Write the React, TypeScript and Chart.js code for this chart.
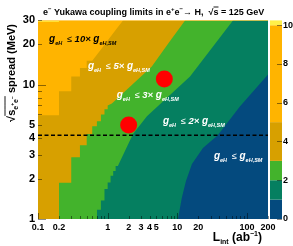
import React, { useEffect, useRef } from "react";
import { Chart, registerables } from "chart.js";

Chart.register(...registerables);

// ---------- axes ----------
const xRange = [0.1, 200];
const yRange = [1, 30];
const zRange = [0, 10.25];
const xTickValues = [0.1, 0.2, 1, 2, 3, 4, 5, 10, 20, 100, 200];
const yTickValues = [1, 2, 3, 4, 5, 10, 20, 30];
const zTickValues = [0, 2, 4, 6, 8, 10];

// ---------- colour levels (g_eH / g_eH,SM) ----------
const zLevels = [0, 1, 2, 3, 5, 10, 10.25];
const zColors = ["#044a7e", "#057f60", "#43b32c", "#d7a000", "#ffb400", "#fff04a"];

// ---------- contour boundaries: [L_int (ab^-1), sqrt(s) spread (MeV)] ----------
const bound10x = [[0.1, 29.3], [0.2, 29.3]];
const bound5x = [
  [0.1, 5.9], [0.2, 5.9], [0.2, 8.9], [0.3, 8.9], [0.3, 11.5], [0.4, 11.5],
  [0.4, 13.3], [0.5, 13.3], [0.5, 15.0], [0.6, 15.0], [0.8, 18.2], [1.0, 21.3],
  [1.3, 25.5], [1.66, 30], [200, 30],
];
const bound3x = [
  [0.2, 1], [0.2, 1.86], [0.3, 1.86], [0.3, 2.88], [0.4, 2.88], [0.4, 3.53],
  [0.5, 3.53], [0.5, 4.28], [0.6, 4.28], [0.6, 4.9], [0.7, 4.9], [0.7, 5.33],
  [0.8, 5.33], [0.8, 6.0], [0.9, 6.0], [0.9, 6.54], [1.0, 6.54], [1.0, 7.0],
  [1.15, 7.24], [2.2, 9.9], [4.3, 13.6], [7.4, 20.2], [12.9, 30], [200, 30],
];
const bound2x = [
  [0.7, 1], [0.7, 1.17], [0.8, 1.17], [0.8, 1.37], [0.9, 1.37], [0.9, 1.67],
  [1.0, 1.67], [1.0, 1.87], [1.1, 1.87], [1.1, 2.1], [1.2, 2.1], [1.2, 2.28],
  [1.3, 2.28], [1.3, 2.48], [1.4, 2.48], [1.77, 3.2], [2.31, 4.28], [3.66, 5.8],
  [15.2, 11.5], [62.8, 30], [200, 30],
];
const bound1x = [
  [10.2, 1], [11.6, 1.44], [13.3, 1.92], [16.2, 2.57], [23.3, 3.37], [38, 4.2],
  [79, 6.88], [200, 11.9],
];
const scenarioPoints = [[2, 5], [6.5, 11]];
const higgsWidth = 4.2;

const FONT = '"Liberation Sans", Arial, Helvetica, sans-serif';

type Run = { t: string; size: number; dy?: number; style?: string; color?: string; over?: boolean };

function runsWidth(ctx: CanvasRenderingContext2D, runs: Run[]) {
  let w = 0;
  for (const r of runs) {
    ctx.font = `${r.style ?? "bold"} ${r.size}px ${FONT}`;
    w += ctx.measureText(r.t).width;
  }
  return w;
}

function drawRuns(ctx: CanvasRenderingContext2D, x: number, y: number, runs: Run[], color = "#000", overY = 0) {
  let cx = x;
  ctx.textAlign = "left";
  ctx.textBaseline = "alphabetic";
  for (const r of runs) {
    ctx.font = `${r.style ?? "bold"} ${r.size}px ${FONT}`;
    ctx.fillStyle = r.color ?? color;
    ctx.fillText(r.t, cx, y + (r.dy ?? 0));
    const w = ctx.measureText(r.t).width;
    if (r.over) {
      ctx.strokeStyle = r.color ?? color;
      ctx.lineWidth = 0.9;
      ctx.beginPath();
      ctx.moveTo(cx, y - overY);
      ctx.lineTo(cx + w, y - overY);
      ctx.stroke();
    }
    cx += w;
  }
}

function coupRuns(mult: string): Run[] {
  return [
    { t: "g", size: 10, style: "italic bold" },
    { t: "eH", size: 5.5, dy: 3, style: "italic bold" },
    { t: "  \u2264 ", size: 9, style: "normal" },
    { t: mult ? mult + "\u00d7 " : "", size: 9.5, style: "italic bold" },
    { t: "g", size: 10, style: "italic bold" },
    { t: "eH,SM", size: 5.5, dy: 3, style: "italic bold" },
  ];
}

const annotations = [
  { mult: "10", L: 0.144, s: 20.8, color: "#000" },
  { mult: "5", L: 0.52, s: 12.97, color: "#fff" },
  { mult: "3", L: 1.35, s: 7.92, color: "#fff" },
  { mult: "2", L: 6.2, s: 5.07, color: "#fff" },
  { mult: "", L: 33.5, s: 2.8, color: "#fff" },
];

const toXY = (a: number[][]) => a.map(([x, y]) => ({ x, y }));

const bgPlugin = {
  id: "bgPlugin",
  beforeDatasetsDraw(chart: any) {
    const { ctx, chartArea: a } = chart;
    ctx.save();
    ctx.fillStyle = zColors[4];
    ctx.fillRect(a.left, a.top, a.right - a.left, a.bottom - a.top);
    ctx.restore();
  },
};

const overlayPlugin = {
  id: "overlayPlugin",
  afterDatasetsDraw(chart: any) {
    const { ctx, chartArea: a } = chart;
    const xs = chart.scales.x, ys = chart.scales.y;
    ctx.save();
    // inner tick marks
    ctx.strokeStyle = "rgba(0,0,0,0.45)";
    ctx.lineWidth = 1;
    for (const d of [0.1, 1, 10, 100]) {
      for (let k = 1; k <= 9; k++) {
        const v = d * k;
        if (v < xRange[0] * 0.999 || v > xRange[1] * 1.001) continue;
        const px = Math.round(xs.getPixelForValue(v)) + 0.5;
        const len = k === 1 ? 6 : 3;
        ctx.beginPath();
        ctx.moveTo(px, a.bottom);
        ctx.lineTo(px, a.bottom - len);
        ctx.stroke();
      }
    }
    for (const d of [1, 10]) {
      for (let k = 1; k <= 9; k++) {
        const v = d * k;
        if (v > yRange[1] * 1.001) continue;
        const py = Math.round(ys.getPixelForValue(v)) + 0.5;
        const len = k === 1 ? 8 : 4;
        ctx.beginPath();
        ctx.moveTo(a.left, py);
        ctx.lineTo(a.left + len, py);
        ctx.stroke();
      }
    }
    // annotations
    for (const an of annotations) {
      drawRuns(ctx, xs.getPixelForValue(an.L), ys.getPixelForValue(an.s), coupRuns(an.mult), an.color);
    }
    ctx.restore();
  },
  afterDraw(chart: any) {
    const { ctx, chartArea: a } = chart;
    const zs = chart.scales.z;
    ctx.save();
    // colour bar
    const barL = 270, barW = 12;
    for (let i = 0; i < zColors.length; i++) {
      const y1 = zs.getPixelForValue(zLevels[i]);
      const y2 = zs.getPixelForValue(zLevels[i + 1]);
      ctx.fillStyle = zColors[i];
      ctx.fillRect(barL, y2, barW, y1 - y2);
    }
    ctx.strokeStyle = "rgba(0,0,0,0.45)";
    ctx.lineWidth = 1;
    for (const v of zTickValues) {
      const py = Math.round(zs.getPixelForValue(v)) + 0.5;
      ctx.beginPath();
      ctx.moveTo(barL + barW - 5, py);
      ctx.lineTo(barL + barW, py);
      ctx.stroke();
    }
    // title
    drawRuns(ctx, 43, 15, [
      { t: "e", size: 9 },
      { t: "\u2212", size: 6, dy: -4 },
      { t: " Yukawa coupling limits in e", size: 9 },
      { t: "+", size: 6, dy: -4 },
      { t: "e", size: 9 },
      { t: "\u2212", size: 6, dy: -4 },
      { t: "\u2192 H,  ", size: 9 },
      { t: "\u221a", size: 9 },
      { t: "s", size: 9, over: true },
      { t: " = 125 GeV", size: 9 },
    ], "#000", 8);
    // x title
    const xRuns: Run[] = [
      { t: "L", size: 12 },
      { t: "int", size: 7, dy: 3 },
      { t: " (ab", size: 12 },
      { t: "\u22121", size: 7, dy: -5 },
      { t: ")", size: 12 },
    ];
    const xw = runsWidth(ctx, xRuns);
    drawRuns(ctx, 262 - xw, 241, xRuns);
    // y title (rotated)
    const yRuns: Run[] = [
      { t: "\u221a", size: 11 },
      { t: "s", size: 11, over: true },
      { t: "e", size: 7, dy: 3, over: true },
      { t: "+", size: 5, dy: -1, over: true },
      { t: "e", size: 7, dy: 3, over: true },
      { t: "\u2212", size: 5, dy: -1, over: true },
      { t: " spread (MeV)", size: 11 },
    ];
    const yw = runsWidth(ctx, yRuns);
    ctx.translate(15, 24 + yw);
    ctx.rotate(-Math.PI / 2);
    drawRuns(ctx, 0, 0, yRuns, "#000", 10);
    ctx.restore();
  },
};

export default function App() {
  const ref = useRef<HTMLCanvasElement>(null);
  useEffect(() => {
    document.body.style.margin = "0";
    const canvas = ref.current!;
    const fillSet = (data: number[][], color: string, order: number, fill: string = "start") => ({
      data: toXY(data),
      fill,
      backgroundColor: color,
      borderColor: "rgba(0,0,0,0)",
      borderWidth: 0,
      pointRadius: 0,
      order,
    });
    const chart = new Chart(canvas, {
      type: "line",
      data: {
        datasets: [
          {
            data: toXY(scenarioPoints),
            showLine: false,
            pointRadius: 8.5,
            pointBackgroundColor: "#ff0000",
            pointBorderColor: "#ff0000",
            pointBorderWidth: 0,
            order: 0,
          } as any,
          {
            data: [{ x: xRange[0], y: higgsWidth }, { x: xRange[1], y: higgsWidth }],
            borderColor: "#000",
            borderWidth: 1.5,
            borderDash: [4, 2.5],
            pointRadius: 0,
            fill: false,
            order: 1,
          },
          fillSet(bound1x, zColors[0], 2),
          fillSet(bound2x, zColors[1], 3),
          fillSet(bound3x, zColors[2], 4),
          fillSet(bound5x, zColors[3], 5),
          fillSet(bound10x, zColors[5], 6, "end"),
        ],
      },
      options: {
        responsive: false,
        animation: false,
        devicePixelRatio: 1,
        events: [],
        layout: { padding: { top: 18, left: 0, right: 0, bottom: 0 } },
        plugins: { legend: { display: false }, tooltip: { enabled: false }, title: { display: false } },
        elements: { line: { tension: 0 } },
        scales: {
          x: {
            type: "logarithmic",
            min: xRange[0],
            max: xRange[1],
            afterBuildTicks: (s: any) => { s.ticks = xTickValues.map((v) => ({ value: v })); },
            afterFit: (s: any) => { s.height = 27; },
            grid: { display: false, drawTicks: false },
            border: { display: false },
            ticks: {
              autoSkip: false, maxRotation: 0, minRotation: 0, padding: 3, color: "#000",
              font: { family: FONT, size: 9, weight: "bold" },
              callback: (v: any) => String(v),
            },
          },
          y: {
            type: "logarithmic",
            position: "left",
            min: yRange[0],
            max: yRange[1],
            afterBuildTicks: (s: any) => { s.ticks = yTickValues.map((v) => ({ value: v })); },
            afterFit: (s: any) => { s.width = 38; },
            grid: { display: false, drawTicks: false },
            border: { display: false },
            ticks: {
              autoSkip: false, padding: 3, color: "#000",
              font: { family: FONT, size: 11, weight: "bold" },
              callback: (v: any) => String(v),
            },
          },
          z: {
            type: "linear",
            axis: "y",
            position: "right",
            min: zRange[0],
            max: zRange[1],
            afterBuildTicks: (s: any) => { s.ticks = zTickValues.map((v) => ({ value: v })); },
            afterFit: (s: any) => { s.width = 25; },
            grid: { display: false, drawTicks: false },
            border: { display: false },
            ticks: {
              autoSkip: false, padding: 15, color: "#000",
              font: { family: FONT, size: 9, weight: "bold" },
              callback: (v: any) => String(v),
            },
          },
        } as any,
      },
      plugins: [bgPlugin, overlayPlugin],
    } as any);
    return () => chart.destroy();
  }, []);
  return (
    <div style={{ position: "fixed", left: 0, top: 0, width: 293, height: 246, background: "#fff" }}>
      <canvas ref={ref} width={293} height={246} style={{ width: 293, height: 246, display: "block" }} />
    </div>
  );
}
